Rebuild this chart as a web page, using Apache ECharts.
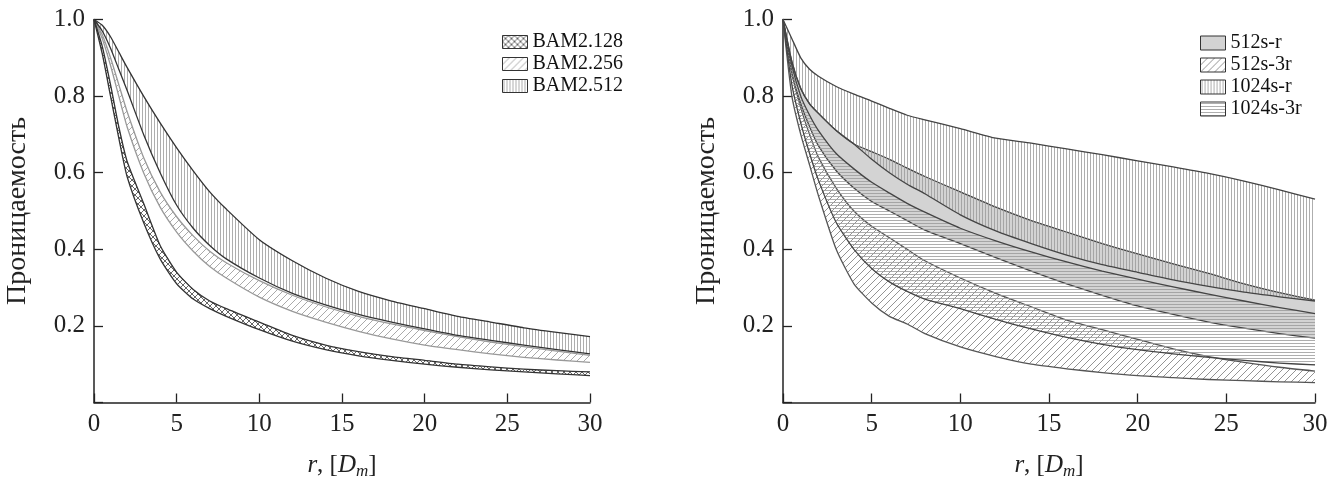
<!DOCTYPE html>
<html><head><meta charset="utf-8">
<script src="https://cdn.jsdelivr.net/npm/echarts/dist/echarts.min.js"></script>
<style>html,body{margin:0;padding:0;background:#fff}#c{width:1343px;height:477px}</style>
</head><body><div id="c"></div>
<script>
// ---------- DATA ----------
const xTicks = [0, 5, 10, 15, 20, 25, 30];
const yTicks = [0.2, 0.4, 0.6, 0.8, 1.0];
const yTitle = 'Проницаемость';

// Left chart
const rL = [0,0.5,1,1.5,2,3,4,5,6,7,8,10,12,14,16,18,20,22,24,26,28,30];
const bam128Hi = [1,0.93,0.83,0.72,0.63,0.52,0.41,0.34,0.295,0.265,0.245,0.21,0.175,0.15,0.133,0.12,0.11,0.1,0.093,0.087,0.083,0.08];
const bam128Lo = [1,0.91,0.80,0.69,0.59,0.47,0.375,0.31,0.27,0.245,0.225,0.19,0.16,0.138,0.122,0.11,0.1,0.092,0.085,0.08,0.075,0.07];
const bam256Hi = [1,0.96,0.90,0.83,0.76,0.64,0.55,0.485,0.435,0.395,0.365,0.318,0.28,0.25,0.225,0.205,0.188,0.172,0.158,0.146,0.134,0.123];
const bam256Lo = [1,0.95,0.88,0.80,0.72,0.60,0.51,0.445,0.395,0.355,0.325,0.275,0.238,0.21,0.186,0.166,0.15,0.138,0.127,0.118,0.111,0.105];
const bam512Hi = [1,0.985,0.955,0.915,0.875,0.80,0.73,0.665,0.605,0.55,0.505,0.425,0.37,0.325,0.29,0.265,0.245,0.225,0.21,0.195,0.183,0.172];
const bam512Lo = [1,0.97,0.925,0.87,0.815,0.70,0.60,0.515,0.455,0.41,0.375,0.325,0.285,0.255,0.23,0.21,0.192,0.175,0.162,0.15,0.138,0.127];

// Right chart
const rR = [0,0.5,1,1.5,2,3,4,5,6,7,8,10,12,14,16,18,20,22,24,26,28,30];
const s512rHi  = [1,0.89,0.82,0.78,0.755,0.71,0.675,0.655,0.635,0.612,0.59,0.55,0.51,0.475,0.445,0.415,0.388,0.362,0.337,0.31,0.287,0.267];
const s512rLo  = [1,0.86,0.78,0.72,0.67,0.605,0.56,0.525,0.50,0.475,0.45,0.415,0.378,0.343,0.31,0.28,0.252,0.23,0.21,0.194,0.18,0.168];
const s5123rHi = [1,0.86,0.77,0.70,0.64,0.56,0.50,0.46,0.43,0.40,0.37,0.325,0.285,0.25,0.215,0.19,0.165,0.14,0.12,0.105,0.092,0.082];
const s5123rLo = [1,0.80,0.70,0.62,0.54,0.40,0.31,0.26,0.225,0.205,0.18,0.145,0.12,0.10,0.088,0.078,0.07,0.065,0.06,0.057,0.054,0.052];
const s1024rHi = [1,0.95,0.90,0.87,0.852,0.825,0.805,0.787,0.768,0.75,0.738,0.715,0.69,0.677,0.662,0.647,0.631,0.615,0.598,0.578,0.555,0.531];
const s1024rLo = [1,0.89,0.82,0.78,0.755,0.71,0.675,0.635,0.60,0.57,0.545,0.49,0.448,0.415,0.385,0.36,0.34,0.32,0.303,0.288,0.276,0.265];
const s10243rHi = [1,0.88,0.80,0.75,0.71,0.65,0.61,0.575,0.547,0.52,0.497,0.455,0.422,0.393,0.367,0.343,0.322,0.302,0.283,0.265,0.248,0.232];
const s10243rLo = [1,0.83,0.73,0.65,0.58,0.47,0.40,0.35,0.315,0.29,0.27,0.245,0.217,0.192,0.17,0.152,0.138,0.127,0.118,0.11,0.103,0.098];

// ---------- STYLE HELPERS ----------
const FONT = "'Liberation Serif', serif";
function pat(type, color, size, lw) {
  const c = document.createElement('canvas');
  c.width = c.height = size;
  const g = c.getContext('2d');
  g.strokeStyle = color; g.lineWidth = lw; g.beginPath();
  if (type === 'v') { g.moveTo(size / 2, 0); g.lineTo(size / 2, size); }
  if (type === 'h') { g.moveTo(0, size / 2); g.lineTo(size, size / 2); }
  if (type === 'd' || type === 'x') {
    g.moveTo(-1, size + 1); g.lineTo(size + 1, -1);
    g.moveTo(-1, 1); g.lineTo(1, -1);
    g.moveTo(size - 1, size + 1); g.lineTo(size + 1, size - 1);
  }
  if (type === 'x') {
    g.moveTo(-1, -1); g.lineTo(size + 1, size + 1);
    g.moveTo(size - 1, -1); g.lineTo(size + 1, 1);
    g.moveTo(-1, size - 1); g.lineTo(1, size + 1);
  }
  g.stroke();
  return { image: c, repeat: 'repeat' };
}
const P = {
  cross: pat('x', '#555', 6, 0.9),
  diagL: pat('d', '#aaa', 7, 1),
  vertL: pat('v', '#999', 3, 0.8),
  gray: '#d3d3d3',
  diagR: pat('d', '#888', 7, 0.9),
  vertR: pat('v', '#999', 3, 0.8),
  horR: pat('h', '#999', 3, 0.8)
};

function band(name, idx, r, lo, hi, fill, edge, z) {
  return {
    type: 'custom', name: name, xAxisIndex: idx, yAxisIndex: idx, z: z, silent: true,
    coordinateSystem: 'cartesian2d',
    data: r.map((x, i) => [x, lo[i], hi[i]]),
    encode: { x: 0, y: [1, 2] },
    itemStyle: { color: edge },
    renderItem: function (params, api) {
      if (params.dataIndex !== 0) return null;
      const top = r.map((x, i) => api.coord([x, hi[i]]));
      const bot = r.map((x, i) => api.coord([x, lo[i]]));
      const poly = top.concat(bot.slice().reverse());
      return {
        type: 'group',
        children: [
          { type: 'polygon', shape: { points: poly }, style: { fill: fill, stroke: null } },
          { type: 'polyline', shape: { points: top, smooth: 0.2 }, style: { stroke: edge, lineWidth: 1.3, fill: null } },
          { type: 'polyline', shape: { points: bot, smooth: 0.2 }, style: { stroke: edge, lineWidth: 1.3, fill: null } }
        ]
      };
    }
  };
}

function xAx(idx) {
  return {
    type: 'value', gridIndex: idx, min: 0, max: 30, interval: 5,
    axisLine: { lineStyle: { color: '#222', width: 1.5 } },
    axisTick: { inside: true, length: 9, lineStyle: { color: '#222', width: 1.3 } },
    axisLabel: { color: '#222', fontSize: 25, fontFamily: FONT, margin: 9 },
    splitLine: { show: false },
    name: '{i|r}, [{i|D}{s|m}]', nameLocation: 'middle', nameGap: 47,
    nameTextStyle: { color: '#222', fontSize: 25, fontFamily: FONT,
      rich: { i: { fontStyle: 'italic', fontSize: 25, fontFamily: FONT, color: '#222' },
              s: { fontStyle: 'italic', fontSize: 17, fontFamily: FONT, color: '#222', verticalAlign: 'bottom', padding: [14, 0, 0, 0] } } }
  };
}
function yAx(idx) {
  return {
    type: 'value', gridIndex: idx, min: 0, max: 1, interval: 0.2,
    axisLine: { show: true, lineStyle: { color: '#222', width: 1.5 } },
    axisTick: { show: true, inside: true, length: 9, lineStyle: { color: '#222', width: 1.3 } },
    axisLabel: { color: '#222', fontSize: 25, fontFamily: FONT, margin: 9,
      formatter: v => (yTicks.some(t => Math.abs(t - v) < 1e-9) ? v.toFixed(1) : '') },
    splitLine: { show: false },
    name: yTitle, nameLocation: 'middle', nameGap: 62,
    nameTextStyle: { color: '#222', fontSize: 28, fontFamily: FONT }
  };
}
function legItem(name, fill) {
  return { name: name, icon: 'rect', itemStyle: { color: fill, borderColor: '#333', borderWidth: 1 } };
}

const chart = echarts.init(document.getElementById('c'), null, { renderer: 'canvas' });
chart.setOption({
  backgroundColor: '#fff',
  animation: false,
  grid: [
    { left: 94, width: 496, top: 19.5, height: 383, outerBoundsMode: 'none', containLabel: false },
    { left: 783, width: 532, top: 19.5, height: 383, outerBoundsMode: 'none', containLabel: false }
  ],
  xAxis: [xAx(0), xAx(1)],
  yAxis: [yAx(0), yAx(1)],
  legend: [
    { orient: 'vertical', left: 497, top: 27, itemWidth: 25, itemHeight: 13, itemGap: 2,
      selectedMode: false, textStyle: { fontSize: 20, fontFamily: FONT, color: '#111' },
      data: [legItem('BAM2.128', P.cross), legItem('BAM2.256', P.diagL), legItem('BAM2.512', P.vertL)] },
    { orient: 'vertical', left: 1195, top: 28, itemWidth: 25, itemHeight: 14, itemGap: 2,
      selectedMode: false, textStyle: { fontSize: 20, fontFamily: FONT, color: '#111' },
      data: [legItem('512s-r', P.gray), legItem('512s-3r', P.diagR), legItem('1024s-r', P.vertR), legItem('1024s-3r', P.horR)] }
  ],
  series: [
    band('BAM2.128', 0, rL, bam128Lo, bam128Hi, P.cross, '#333', 3),
    band('BAM2.256', 0, rL, bam256Lo, bam256Hi, P.diagL, '#999', 2),
    band('BAM2.512', 0, rL, bam512Lo, bam512Hi, P.vertL, '#333', 4),
    band('512s-r', 1, rR, s512rLo, s512rHi, P.gray, '#444', 1),
    band('512s-3r', 1, rR, s5123rLo, s5123rHi, P.diagR, '#555', 2),
    band('1024s-r', 1, rR, s1024rLo, s1024rHi, P.vertR, '#444', 3),
    band('1024s-3r', 1, rR, s10243rLo, s10243rHi, P.horR, '#444', 4)
  ]
});
</script></body></html>
